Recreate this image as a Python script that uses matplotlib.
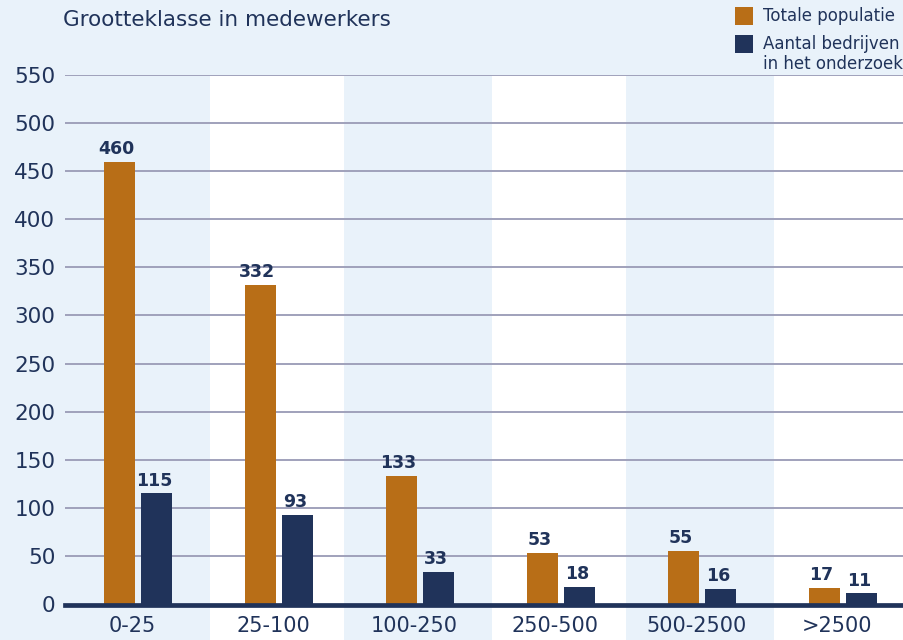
import numpy as np
import matplotlib.pyplot as plt
from matplotlib.patches import Rectangle

categories = ['0-25', '25-100', '100-250', '250-500', '500-2500', '>2500']
totale_populatie = [460, 332, 133, 53, 55, 17]
bedrijven_onderzoek = [115, 93, 33, 18, 16, 11]
yticks = [0, 50, 100, 150, 200, 250, 300, 350, 400, 450, 500, 550]

orange = '#b86e17'
navy = '#20335a'
lightblue = '#e9f2fa'
gridcol = '#a0a1bb'

fig = plt.figure(figsize=(9.04, 6.4), dpi=100, facecolor=lightblue)
ax = fig.add_axes([65 / 904, 36 / 640, 1 - 65 / 904, 529 / 640])
ax.set_facecolor('none')

x = np.arange(len(categories))
w = 0.22
off = 0.134

# white bands behind every second category, running down to the figure edge
for i in x:
    if i % 2 == 1:
        ax.add_patch(Rectangle((i - 0.49, -0.08), 0.95, 1.08, transform=ax.get_xaxis_transform(),
                               facecolor='white', edgecolor='none', clip_on=False, zorder=0))

for v in yticks[1:]:
    ax.axhline(v, color=gridcol, lw=1.4, zorder=1)
ax.axhline(-1.5, color=navy, lw=3.4, zorder=4, clip_on=False)

b1 = ax.bar(x - off, totale_populatie, w, color=orange, zorder=3)
b2 = ax.bar(x + off, bedrijven_onderzoek, w, color=navy, zorder=3)
for bars in (b1, b2):
    for b in bars:
        ax.text(b.get_x() + b.get_width() / 2 - 0.02, b.get_height() + 4, str(int(b.get_height())),
                ha='center', va='bottom', fontsize=12.5, fontweight='bold', color=navy)

ax.set_xlim(-0.518, 5.433)
ax.set_ylim(0, 550)
ax.set_yticks(yticks)
ax.set_yticklabels([str(v) for v in yticks], fontsize=15.5, color=navy)
ax.set_xticks(x - 0.04)
ax.set_xticklabels(categories, fontsize=15, color=navy)
ax.tick_params(length=0)
ax.tick_params(axis='y', pad=7)
ax.tick_params(axis='x', pad=9)
for s in ax.spines.values():
    s.set_visible(False)

fig.text(63 / 904, 1 - 20 / 640, 'Grootteklasse in medewerkers', fontsize=15.5, color=navy, va='center')

# legend
fig.patches.append(Rectangle((735 / 904, 1 - 25 / 640), 18 / 904, 18 / 640, transform=fig.transFigure,
                             facecolor=orange, edgecolor='none'))
fig.patches.append(Rectangle((735 / 904, 1 - 53 / 640), 18 / 904, 18 / 640, transform=fig.transFigure,
                             facecolor=navy, edgecolor='none'))
fig.text(763 / 904, 1 - 16 / 640, 'Totale populatie', fontsize=12, color=navy, va='center')
fig.text(763 / 904, 1 - 54 / 640, 'Aantal bedrijven\nin het onderzoek', fontsize=12, color=navy,
         va='center', linespacing=1.15)

fig.savefig('out.png', dpi=100, facecolor=lightblue)
